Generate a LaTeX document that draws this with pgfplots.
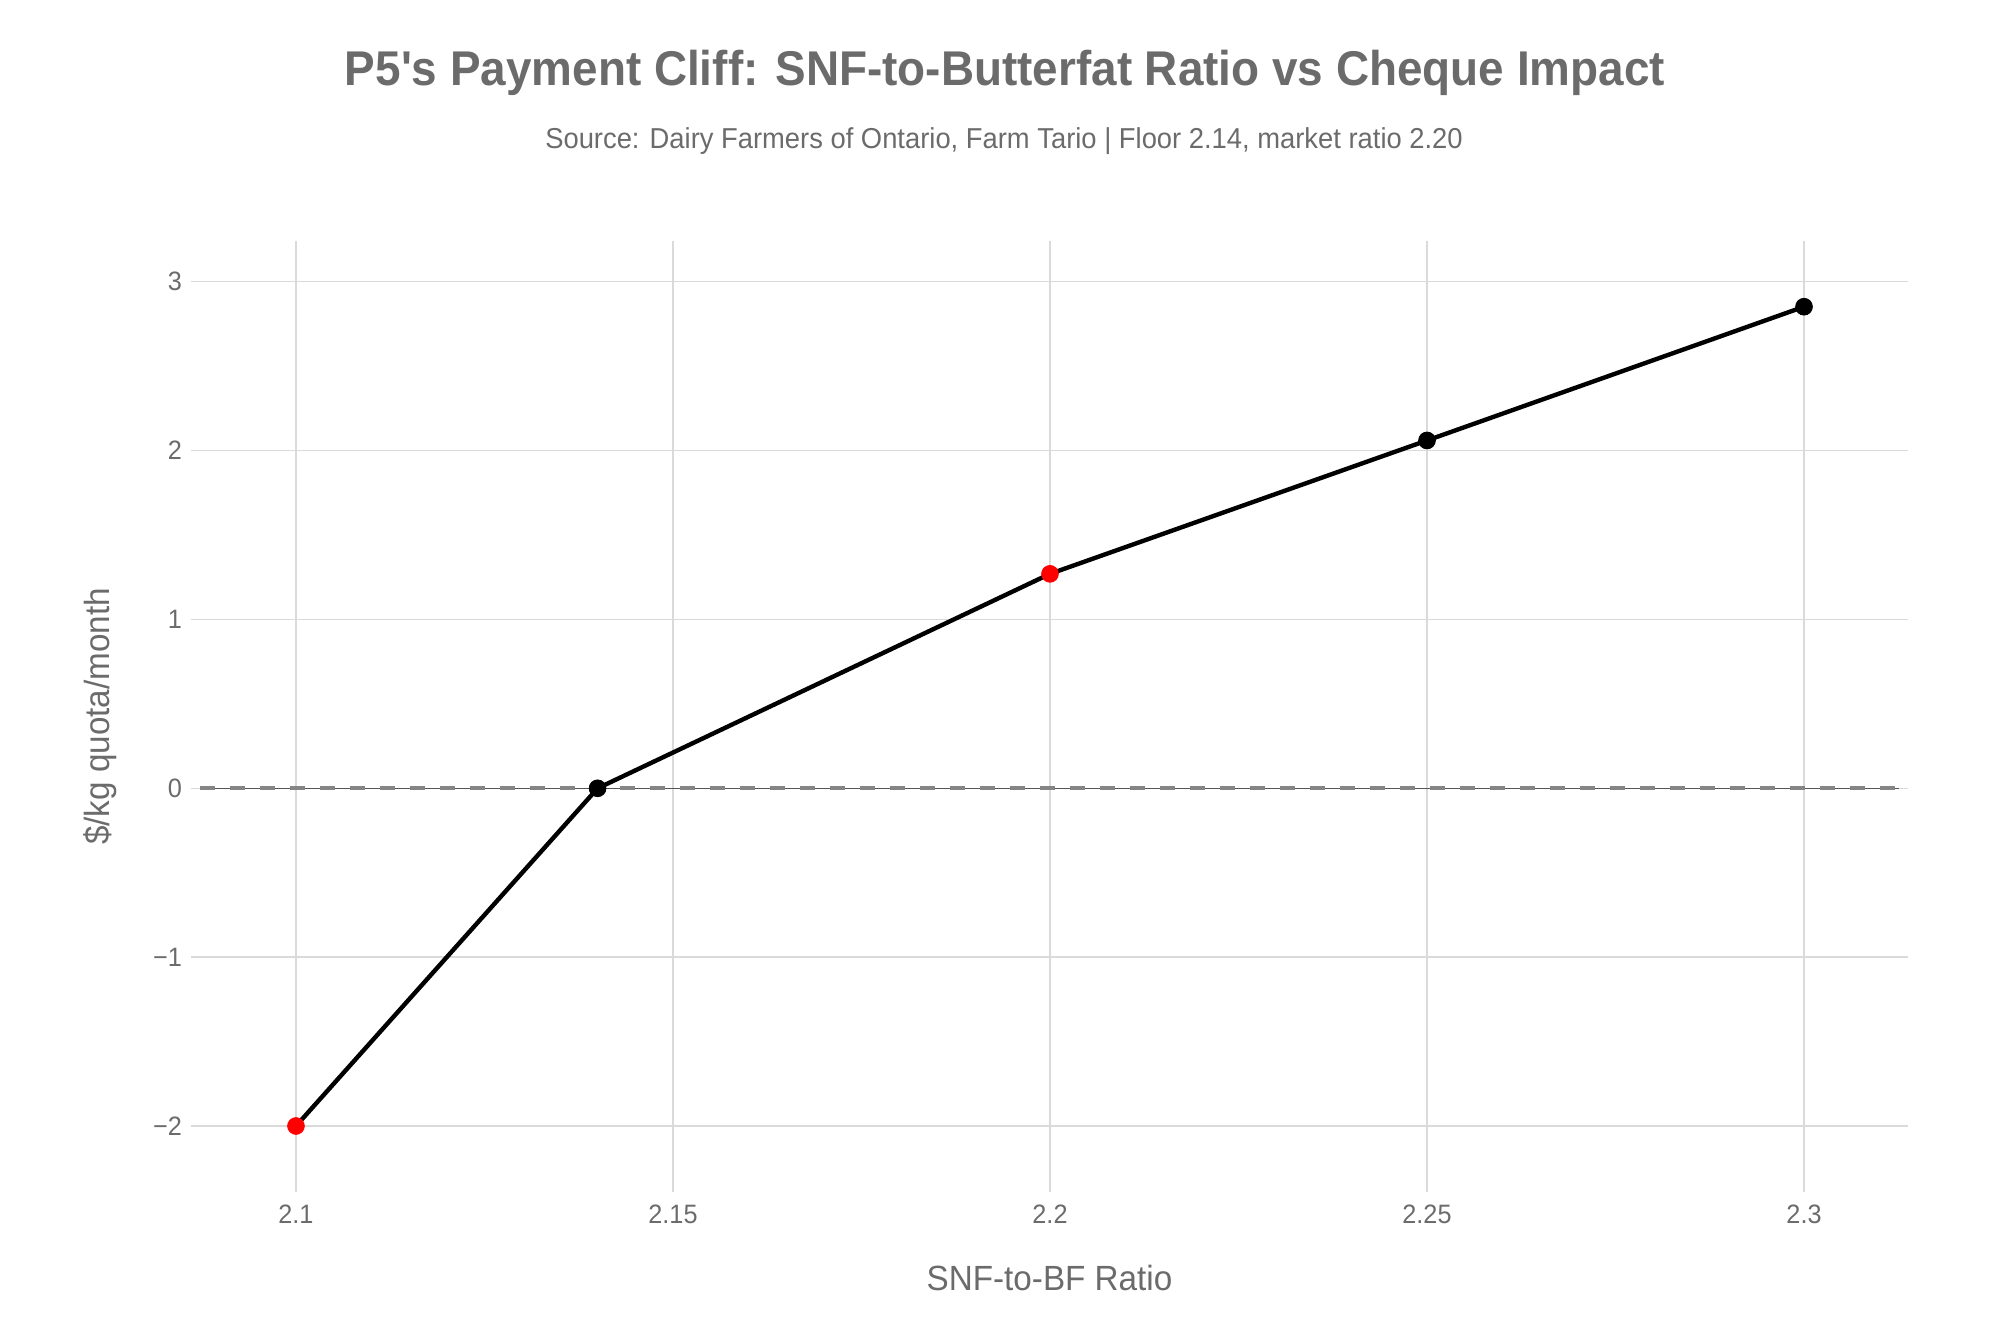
\documentclass[border=0pt]{standalone}
\usepackage{fontspec}
\setmainfont[FakeStretch=0.95, Ligatures=TeXOff]{Liberation Sans}
\newfontfamily\titlefont[FakeStretch=0.94, Ligatures=TeXOff]{Liberation Sans}
\usepackage{pgfplots}
\pgfplotsset{compat=1.18}
\definecolor{txtgray}{HTML}{6B6B6B}
\definecolor{gridgray}{HTML}{DADADA}
\definecolor{zerodark}{HTML}{555555}
\definecolor{zerodash}{HTML}{858585}
\begin{document}
\begin{tikzpicture}
\begin{axis}[
  at={(100pt,75pt)}, anchor=south west,
  scale only axis, width=849.5pt, height=466.5pt,
  xmin=2.08727, xmax=2.3126, ymin=-2.3376, ymax=3.188,
  xtick={2.1,2.15,2.2,2.25,2.3},
  xticklabels={2.1,2.15,2.2,2.25,2.3},
  ytick={-2,-1,0,1,2,3},
  yticklabels={−2,−1,0,1,2,3},
  axis line style={draw=none},
  tick align=outside,
  major tick length=4.5pt,
  tick style={gridgray, line width=0.75pt},
  grid=major,
  major grid style={gridgray, line width=0.75pt},
  ticklabel style={font=\fontsize{13.3}{16}\selectfont, text=txtgray},
  xticklabel style={yshift=-3pt},
  yticklabel style={xshift=-1pt},
  xlabel={SNF-to-BF Ratio},
  ylabel={\$/kg quota/month},
  every axis x label/.style={at={(axis description cs:0.5,-0.1018)}, anchor=center, font=\fontsize{17.5}{20}\selectfont, text=txtgray},
  every axis y label/.style={at={(axis description cs:-0.0589,0.5)}, anchor=center, rotate=90, font=\fontsize{17.5}{20}\selectfont, text=txtgray},
  clip=false,
]
\addplot[black, line width=2.2pt, no marks] coordinates {
  (2.10,-2.00) (2.14,0.00) (2.20,1.27) (2.25,2.06) (2.30,2.852)
};
\addplot[only marks, mark=*, mark size=4.2pt, red, mark options={draw=red, fill=red}] coordinates {
  (2.10,-2.00) (2.20,1.27)
};
\addplot[only marks, mark=*, mark size=4.2pt, black] coordinates {
  (2.14,0.00) (2.25,2.06) (2.30,2.852)
};
\addplot[zerodark, line width=0.75pt, no marks] coordinates {(2.08727,0) (2.3126,0)};
\addplot[zerodash, line width=2pt, dash pattern=on 7.5pt off 7.5pt, no marks] coordinates {(2.08727,0) (2.3126,0)};
\end{axis}
\node[text=txtgray, font=\fontsize{24.4}{28}\selectfont\titlefont\bfseries] at (502.5pt,630pt) {P5's Payment Cliff: SNF-to-Butterfat Ratio vs Cheque Impact};
\node[text=txtgray, font=\fontsize{14.4}{17}\selectfont] at (502pt,596pt) {Source: Dairy Farmers of Ontario, Farm Tario | Floor 2.14, market ratio 2.20};
\pgfresetboundingbox
\path[use as bounding box] (0,0) rectangle (1000pt,666.5pt);
\end{tikzpicture}
\end{document}
